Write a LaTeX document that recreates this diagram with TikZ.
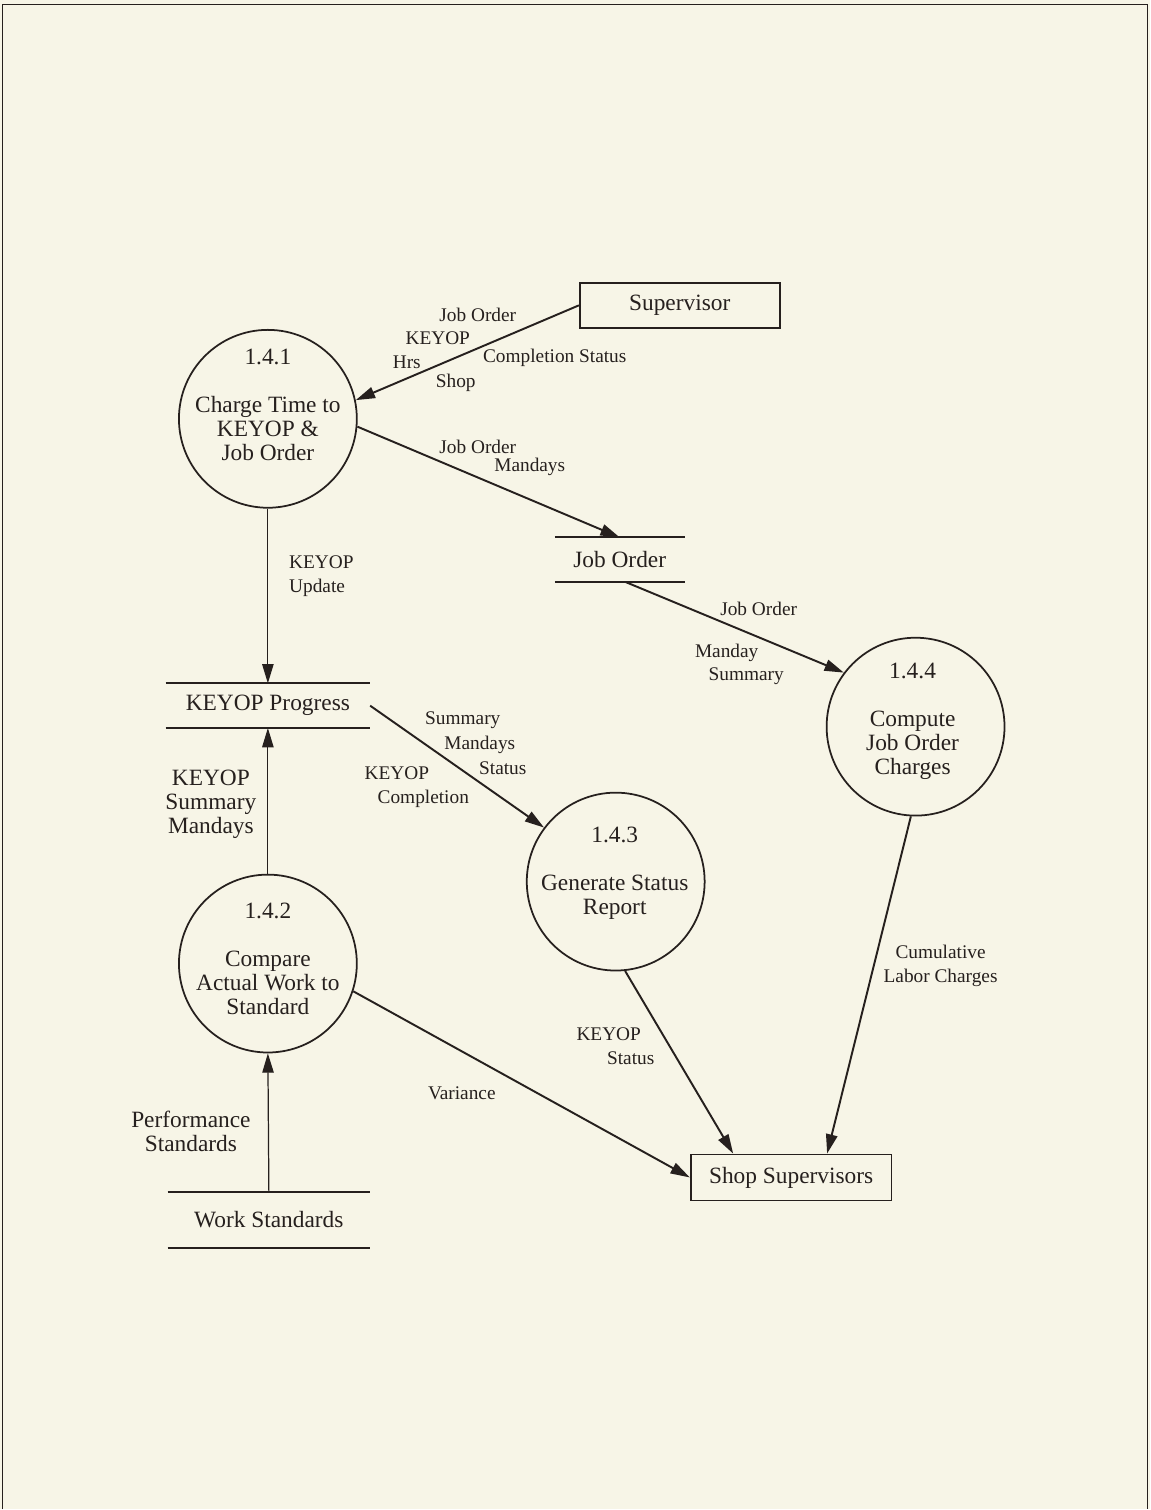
\documentclass[tikz,border=0pt]{standalone}
\usepackage{fontspec}
\setmainfont{Liberation Serif}
\usetikzlibrary{arrows.meta, calc}

\definecolor{paper}{RGB}{247,245,231}
\definecolor{ink}{RGB}{38,32,30}

\newcommand{\bigfont}{\fontsize{13.3}{13.7}\selectfont}
\newcommand{\smallfont}{\fontsize{11}{13.7}\selectfont}

\begin{document}
\begin{tikzpicture}[
x=0.02cm, y=-0.02cm,
every node/.style={align=center, text=ink, inner sep=0pt},
process/.style={circle, draw=ink, line width=1pt, minimum size=3.56cm},
proctext/.style={font=\bigfont},
entity/.style={rectangle, draw=ink, line width=1pt, minimum width=4cm, minimum height=0.9cm, font=\bigfont},
store/.style={rectangle, minimum height=0.88cm, font=\bigfont},
flow/.style={font=\smallfont},
flowbig/.style={font=\bigfont},
arrow/.style={-{Triangle[length=11pt, width=6.5pt]}, draw=ink, line width=1.1pt},
thinarrow/.style={arrow, line width=0.7pt}
]

\fill[paper] (0,0) rectangle (1151,1510);
\draw[ink, line width=0.8pt] (2.5,1510) -- (2.5,4.5) -- (1148,4.5) -- (1148,1510);

\node[entity] (sup) at (680,305.5) {Supervisor};
\node[process] (p141) at (268,419) {};
\node[proctext] (p141t) at (268,405) {1.4.1\\[13.7pt]Charge Time to\\KEYOP \&\\Job Order};
\node[store, minimum width=2.58cm] (jo) at (620,560) {Job Order};
\node[store, minimum width=4.08cm] (kp) at (268,706) {KEYOP Progress};
\node[process] (p144) at (916,727) {};
\node[proctext] (p144t) at (913,721.5) {1.4.4\\[13.7pt]Compute\\Job Order\\Charges};
\node[process] (p143) at (616,882) {};
\node[proctext] (p143t) at (615,873.5) {1.4.3\\[13.7pt]Generate Status\\Report};
\node[process] (p142) at (268,964) {};
\node[proctext] (p142t) at (268,959) {1.4.2\\[13.7pt]Compare\\Actual Work to\\Standard};
\node[store, minimum width=4.04cm, minimum height=1.1cm] (ws) at (269,1220.5) {Work Standards};
\node[entity, minimum width=4.02cm, minimum height=0.92cm] (shop) at (791.5,1178) {Shop Supervisors};

\foreach \s in {jo, kp, ws}
  \draw[ink, line width=1.2pt] (\s.north west) -- (\s.north east) (\s.south west) -- (\s.south east);

\draw[arrow] (sup.west) -- (p141.12);
\draw[arrow] (p141.-5) -- (jo.north);
\draw[thinarrow] (p141.south) -- (kp.north);
\draw[arrow] ($(jo.south)+(6,0)$) -- (p144.143);
\draw[arrow] (kp.east) -- (p143.143);
\draw[thinarrow] (p142.north) -- (kp.south);
\draw[thinarrow] (ws.north) -- (p142.south);
\draw[arrow] (p142.-18) -- (shop.west);
\draw[arrow] (p143.-84) -- ($(shop.north)+(-58,0)$);
\draw[arrow] (p144.-93) -- ($(shop.north)+(36,0)$);

\node[flow] (supjo) at (478,315) {Job Order};
\node[flow] (supkey) at (438,338) {KEYOP};
\node[flow] (suphrs) at (407,362) {Hrs};
\node[flow] (supshop) at (456,383) {Shop};
\node[flow] (supstat) at (555,358) {Completion Status};
\node[flow] (chgjo) at (478,447) {Job Order};
\node[flow] (chgmd) at (530,467) {Mandays};
\node[flow, align=left, anchor=west] (chgupd) at (289,576) {KEYOP\\Update};
\node[flow] (jojo) at (759,609) {Job Order};
\node[flow] (jomd) at (727,653) {Manday};
\node[flow] (josum) at (746.5,676) {Summary};
\node[flow] (kpsum) at (463,721) {Summary};
\node[flow] (kpmd) at (480,745) {Mandays};
\node[flow] (kpstat) at (503,769) {Status};
\node[flow] (kpkey) at (397,774) {KEYOP};
\node[flow] (kpcomp) at (423.5,799) {Completion};
\node[flowbig] (cmpsum) at (211,805) {KEYOP\\Summary\\Mandays};
\node[flowbig] (wsperf) at (191,1132) {Performance\\Standards};
\node[flow] (cmpvar) at (462,1094) {Variance};
\node[flow] (genkey) at (609,1035) {KEYOP};
\node[flow] (genstat) at (631,1059) {Status};
\node[flow] (cumlab) at (941,966.5) {Cumulative\\Labor Charges};

\end{tikzpicture}
\end{document}
